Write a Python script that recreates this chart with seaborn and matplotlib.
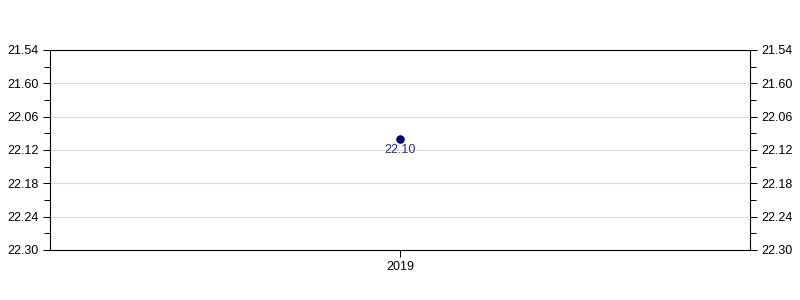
import matplotlib
matplotlib.use("Agg")
import matplotlib.pyplot as plt
import seaborn as sns
import pandas as pd
from matplotlib.ticker import FixedLocator, FixedFormatter

categories = ["2019"]
values = [22.10]
value_labels = ["22.10"]
tick_values = [21.94, 22.00, 22.06, 22.12, 22.18, 22.24, 22.30]
tick_labels = ["21.54", "21.60", "22.06", "22.12", "22.18", "22.24", "22.30"]
minor_values = [21.97, 22.03, 22.09, 22.15, 22.21, 22.27]

sns.set_theme(style="white")
plt.rcParams["font.family"] = ["Liberation Sans", "DejaVu Sans"]

df = pd.DataFrame({"year": categories, "time": values})

fig = plt.figure(figsize=(8, 3), dpi=100)
ax = fig.add_axes([0.0625, 0.1667, 0.875, 0.6667])

sns.scatterplot(data=df, x="year", y="time", ax=ax, color="#000080",
                edgecolor="#000040", linewidth=0.8, s=28, zorder=3)

ax.set_xlim(-1, 1)
ax.set_ylim(tick_values[-1], tick_values[0])
ax.yaxis.set_major_locator(FixedLocator(tick_values))
ax.yaxis.set_major_formatter(FixedFormatter(tick_labels))
ax.yaxis.set_minor_locator(FixedLocator(minor_values))
ax.set_xlabel("")
ax.set_ylabel("")

ax.grid(axis="y", color="#dddddd", linewidth=0.8)
ax.set_axisbelow(True)

for s in ax.spines.values():
    s.set_color("black")
    s.set_linewidth(0.8)

ax.tick_params(axis="y", which="both", left=True, right=True, labelleft=True,
               labelright=True, direction="out", color="black", width=0.75,
               labelsize=9, labelcolor="black", pad=3)
ax.tick_params(axis="y", which="major", length=5)
ax.tick_params(axis="y", which="minor", length=4)
ax.tick_params(axis="x", which="major", bottom=True, length=5, width=0.75,
               color="black", labelsize=9, labelcolor="black", pad=3)

for i, (v, lab) in enumerate(zip(values, value_labels)):
    ax.annotate(lab, (i, v), xytext=(0, -11), textcoords="offset pixels",
                ha="center", va="center", fontsize=9, color="#2a2aa0")

fig.savefig("out.png", dpi=100)
